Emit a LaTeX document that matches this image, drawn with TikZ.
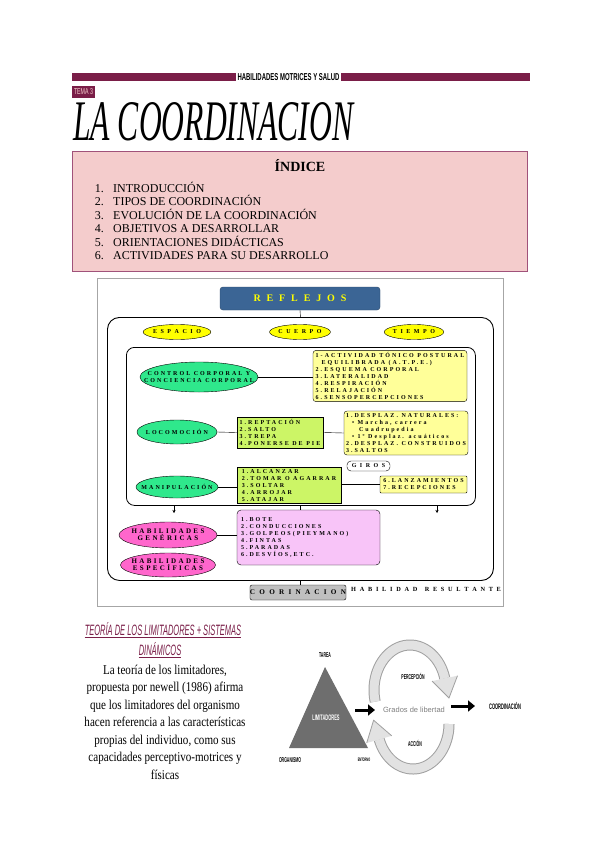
\documentclass[tikz,border=0pt]{standalone}
\usepackage{fontspec}
\usepackage{graphicx}
\usetikzlibrary{shapes.geometric,arrows.meta}
\setmainfont{Liberation Serif}
\newfontfamily\dgf[LetterSpace=34]{Liberation Serif}
\newfontfamily\bodyf[FakeStretch=0.82]{Liberation Serif}
\newfontfamily\handf[FakeStretch=0.5]{Liberation Sans}
\newfontfamily\sansf{Liberation Sans}
\definecolor{mar}{HTML}{7A1E48}
\definecolor{idxfill}{HTML}{F4CCCC}
\definecolor{idxdraw}{HTML}{A0527A}
\definecolor{bluec}{HTML}{3B6595}
\definecolor{yelc}{HTML}{FFFF00}
\definecolor{grell}{HTML}{2FE88C}
\definecolor{yboxc}{HTML}{FFFF99}
\definecolor{gboxc}{HTML}{CCF566}
\definecolor{pboxc}{HTML}{F8C4F8}
\definecolor{mell}{HTML}{FF66CC}
\definecolor{trig}{HTML}{6E6E6E}
\definecolor{arcin}{HTML}{E2E2E2}
\definecolor{arcout}{HTML}{A0A0A0}
\tikzset{
  dtext/.style={font=\dgf\bfseries\fontsize{6}{7}\selectfont},
  ybox/.style={draw, rounded corners=3pt, fill=yboxc, align=left, inner sep=2pt, dtext},
  gbox/.style={draw, fill=gboxc, align=left, inner sep=2pt, dtext},
  ell/.style={draw, ellipse, inner xsep=-30pt, inner ysep=-5pt, align=center, dtext},
  yell/.style={draw, ellipse, inner sep=0pt, dtext, fill=yelc, minimum width=56pt, minimum height=15pt},
  dn/.style={-{Stealth[length=3pt,width=3pt]}},
  bigarr/.style={line width=3pt, -{Triangle[length=7pt,width=11pt]}},
  smalllab/.style={font=\handf\bfseries\fontsize{7}{7}\selectfont}
}
\begin{document}
\begin{tikzpicture}[x=1pt,y=-1pt]
\useasboundingbox (0,0) rectangle (600,848);
\fill[white] (0,0) rectangle (600,848);
% header
\fill[mar] (72,73) rectangle (236,81);
\fill[mar] (341,73) rectangle (530,81);
\node[inner sep=0] (hdr) at (288.5,77) {\resizebox{102pt}{7pt}{\sansf\bfseries HABILIDADES MOTRICES Y SALUD}};
\node[fill=mar, text=idxfill, minimum width=23pt, minimum height=12pt, inner sep=0] (tema) at (83.5,92) {\resizebox{19pt}{6pt}{\sansf TEMA 3}};
\node[anchor=north west, inner sep=0] (title) at (73,102) {\resizebox{280pt}{38pt}{\itshape LA COORDINACION}};
% index
\node[draw=idxdraw, fill=idxfill, line width=0.8pt, minimum width=455pt, minimum height=120pt, anchor=north west] (idx) at (72,151) {};
\node[font=\bfseries\fontsize{14}{14}\selectfont] (idxt) at (300,166) {ÍNDICE};
\foreach \n/\t/\yy in {1/INTRODUCCIÓN/192, 2/TIPOS DE COORDINACIÓN/205.5, 3/EVOLUCIÓN DE LA COORDINACIÓN/219, 4/OBJETIVOS A DESARROLLAR/232.5, 5/ORIENTACIONES DIDÁCTICAS/246, 6/ACTIVIDADES PARA SU DESARROLLO/259.5}{
  \node[anchor=base east, inner sep=0, font=\fontsize{12}{12}\selectfont] (num\n) at (104,\yy) {\n.};
  \node[anchor=base west, inner sep=0, font=\fontsize{12}{12}\selectfont] (item\n) at (113,\yy) {\t};
}
% diagram frame
\node[draw=gray!70, line width=0.8pt, minimum width=406pt, minimum height=328pt, anchor=north west] (frame) at (97,278) {};
\node[draw=bluec!70!black, fill=bluec, rounded corners=3pt, minimum width=160pt, minimum height=23pt, text=yelc, font=\dgf\bfseries\fontsize{10}{10}\selectfont] (refl) at (300,298.5) {R E F L E J O S};
\node[draw, line width=0.9pt, rounded corners=12pt, minimum width=386pt, minimum height=263pt, anchor=north west] (big) at (107,317) {};
\draw (refl.south) -- (big.north);
\node[yell] (esp) at (177,332) {E S P A C I O};
\node[yell] (cue) at (300,332) {C U E R P O};
\node[yell] (tie) at (414,332) {T I E M P O};
\node[draw, line width=0.8pt, rounded corners=8pt, minimum width=349pt, minimum height=158pt, anchor=north west] (inner) at (126,347) {};
% control corporal
\node[ell, fill=grell, minimum width=118pt, minimum height=30pt] (ctrl) at (199,377) {CONTROL CORPORAL Y\\CONCIENCIA CORPORAL};
\node[ybox, minimum width=154pt, minimum height=50pt] (box1) at (390,376) {1-ACTIVIDAD TÓNICO POSTURAL\\\quad EQUILIBRADA (A.T.P.E.)\\2.ESQUEMA CORPORAL\\3.LATERALIDAD\\4.RESPIRACIÓN\\5.RELAJACIÓN\\6.SENSOPERCEPCIONES};
\draw (ctrl.east) -- (box1.west |- ctrl.east);
% locomocion
\node[ell, fill=grell, minimum width=80pt, minimum height=24pt] (loco) at (177,432) {LOCOMOCIÓN};
\node[gbox, minimum width=86pt, minimum height=31pt] (g1) at (280,432.5) {1.REPTACIÓN\\2.SALTO\\3.TREPA\\4.PONERSE DE PIE};
\node[ybox, minimum width=122pt, minimum height=44pt] (box2) at (406,433) {1.DESPLAZ. NATURALES:\\\quad • Marcha, carrera\\\quad\ \ Cuadrupedia\\\quad • 1º Desplaz. acuáticos\\2.DESPLAZ. CONSTRUIDOS\\3.SALTOS};
\draw (loco.east) -- (g1.west);
\draw (g1.east) -- (box2.west);
\node[draw, rounded corners=4pt, fill=white, minimum width=43pt, minimum height=10pt, inner sep=0, dtext] (giros) at (368.5,466) {G I R O S};
% manipulacion
\node[ell, fill=grell, minimum width=82pt, minimum height=22pt] (mani) at (177,487) {MANIPULACIÓN};
\node[gbox, minimum width=104pt, minimum height=35pt] (g2) at (289,485.5) {1.ALCANZAR\\2.TOMAR O AGARRAR\\3.SOLTAR\\4.ARROJAR\\5.ATAJAR};
\node[ybox, rounded corners=1pt, minimum width=87pt, minimum height=17pt] (box3) at (423.5,484.5) {6.LANZAMIENTOS\\7.RECEPCIONES};
\draw (mani.east) -- (g2.west |- mani.east);
\draw (g2.east |- box3.west) -- (box3.west);
% arrows down
\coordinate (d1s) at (174,505); \coordinate (d1e) at (174,513);
\coordinate (d2s) at (300,505); \coordinate (d2e) at (300,513);
\coordinate (d3s) at (437,505); \coordinate (d3e) at (437,513);
\draw[dn] (d1s) -- (d1e);
\draw[dn] (d2s) -- (d2e);
\draw[dn] (d3s) -- (d3e);
% habilidades
\node[draw, rounded corners=4pt, fill=pboxc, minimum width=143pt, minimum height=55pt, align=left, dtext, text width=135pt] (pbox) at (308.5,537.5) {1.BOTE\\2.CONDUCCIONES\\3.GOLPEOS (PIE Y MANO)\\4.FINTAS\\5.PARADAS\\6.DESVÍOS, ETC.};
\node[ell, fill=mell, minimum width=98pt, minimum height=26pt, font=\dgf\bfseries\fontsize{7}{7}\selectfont] (gen) at (168,535) {HABILIDADES\\GENÉRICAS};
\node[ell, fill=mell, minimum width=95pt, minimum height=24pt, font=\dgf\bfseries\fontsize{7}{7}\selectfont] (espc) at (168,565) {HABILIDADES\\ESPECÍFICAS};
\draw (gen.east) -- (pbox.west |- gen.east);
\node[draw, rounded corners=2pt, fill=gray!50, minimum width=96pt, minimum height=15pt, inner sep=0, font=\dgf\bfseries\fontsize{7.2}{7.5}\selectfont] (coor) at (298,592.5) {C O O R I N A C I O N};
\draw (big.south) -- (big.south |- coor.north);
\node[anchor=west, inner sep=0, font=\dgf\bfseries\fontsize{6.3}{7}\selectfont] (hres) at (351,589) {H A B I L I D A D\ \ R E S U L T A N T E};
% theory text
\node[inner sep=0, text=mar, font=\handf\itshape\fontsize{15}{15}\selectfont] (th1) at (163,629) {TEORÍA DE LOS LIMITADORES + SISTEMAS};
\draw[mar, line width=0.6pt] ([yshift=-2pt]th1.base west) -- ([yshift=-2pt]th1.base east);
\node[inner sep=0, text=mar, font=\handf\itshape\fontsize{15}{15}\selectfont] (th2) at (160,649) {DINÁMICOS};
\draw[mar, line width=0.6pt] ([yshift=-2pt]th2.base west) -- ([yshift=-2pt]th2.base east);
\node[align=center, inner sep=0, font=\bodyf\fontsize{13.5}{17.5}\selectfont] (para) at (165,722) {La teoría de los limitadores,\\propuesta por newell (1986) afirma\\que los limitadores del organismo\\hacen referencia a las características\\propias del individuo, como sus\\capacidades perceptivo-motrices y\\físicas};
% triangle diagram
\coordinate (tA) at (325,667); \coordinate (tB) at (289,748); \coordinate (tC) at (368,748);
\fill[trig] (tA) -- (tB) -- (tC) -- cycle;
\node[text=white, smalllab, font=\handf\bfseries\fontsize{8}{8}\selectfont] (lim) at (326,718) {LIMITADORES};
\node[smalllab] (tarea) at (325,655) {TAREA};
\node[smalllab] (org) at (290,760) {ORGANISMO};
\node[smalllab, font=\handf\bfseries\fontsize{5}{5}\selectfont] (ent) at (364,760) {ENTORNO};
% circular arrows
\draw[arcout, line width=11pt] plot[domain=195:15, samples=60] ({410+36*cos(\x)},{690-45*sin(\x)});
\draw[arcin, line width=9pt] plot[domain=195:15, samples=60] ({410+36*cos(\x)},{690-45*sin(\x)});
\coordinate (h1a) at (457.5,675.7); \coordinate (h1b) at (432.1,681.1); \coordinate (h1c) at (449,698);
\filldraw[fill=arcin, draw=arcout, line width=0.8pt] (h1a) -- (h1c) -- (h1b);
\draw[arcout, line width=11pt] plot[domain=0:-160, samples=60] ({413+36*cos(\x)},{724-45*sin(\x)});
\draw[arcin, line width=9pt] plot[domain=0:-160, samples=60] ({413+36*cos(\x)},{724-45*sin(\x)});
\coordinate (h2a) at (391.7,735.8); \coordinate (h2b) at (366.7,743.0); \coordinate (h2c) at (373.6,720.2);
\filldraw[fill=arcin, draw=arcout, line width=0.8pt] (h2a) -- (h2c) -- (h2b);
\node[smalllab] (perc) at (413,676) {PERCEPCIÓN};
\node[smalllab] (acc) at (415,743) {ACCIÓN};
\node[text=gray, font=\sansf\fontsize{7.5}{7.5}\selectfont] (grados) at (414,710) {Grados de libertad};
\coordinate (a1s) at (355,710); \coordinate (a1e) at (375,710);
\draw[bigarr] (a1s) -- (a1e);
\coordinate (a2s) at (451,706); \coordinate (a2e) at (475,706);
\draw[bigarr] (a2s) -- (a2e);
\node[smalllab, font=\handf\bfseries\fontsize{8}{8}\selectfont] (coordn) at (505,706) {COORDINACIÓN};
\end{tikzpicture}
\end{document}
